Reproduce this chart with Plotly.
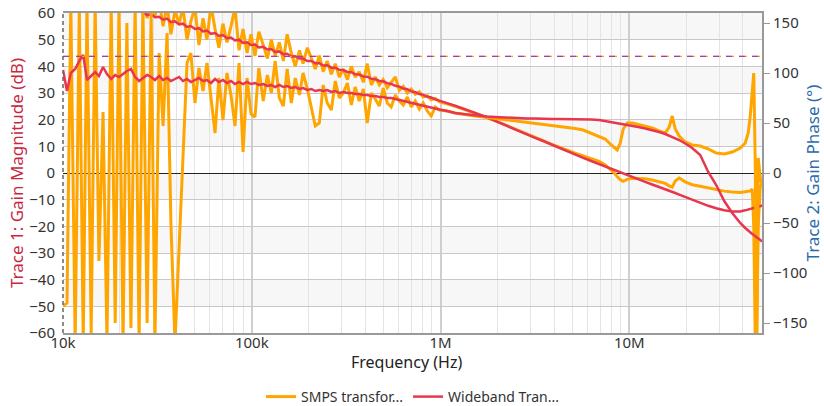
import plotly.graph_objects as go

# ---------------- data ----------------
# low-frequency grid (Hz)
freq_lo = [10.0e3, 10.5e3, 11.0e3, 11.6e3, 12.2e3, 12.8e3, 13.4e3, 14.1e3, 14.8e3, 15.5e3,
           16.3e3, 17.1e3, 18.0e3, 18.9e3, 19.8e3, 20.8e3, 21.8e3, 22.9e3, 24.1e3, 25.3e3,
           26.5e3, 27.9e3, 29.3e3, 30.7e3, 32.3e3, 33.9e3, 35.6e3, 37.3e3, 39.2e3, 41.2e3,
           43.2e3, 45.4e3, 47.6e3, 50.0e3, 52.5e3, 55.2e3, 57.9e3, 60.8e3, 63.9e3, 67.0e3,
           70.4e3, 73.9e3, 77.6e3, 81.5e3, 85.6e3, 89.9e3, 94.4e3, 99.1e3, 104e3, 109e3,
           115e3, 121e3, 127e3, 133e3, 140e3, 147e3, 154e3, 162e3, 170e3, 179e3,
           187e3, 197e3, 207e3, 217e3, 228e3, 239e3, 251e3, 264e3, 277e3, 291e3,
           305e3, 321e3, 337e3, 353e3, 371e3, 390e3, 409e3, 430e3, 451e3, 474e3,
           497e3, 522e3, 548e3, 576e3, 605e3, 635e3, 667e3, 700e3, 735e3, 772e3,
           810e3, 851e3, 893e3, 938e3, 985e3]
# high-frequency grid (Hz)
freq_hi = [1.084e6, 1.195e6, 1.318e6, 1.453e6, 1.602e6, 1.766e6, 1.947e6, 2.146e6, 2.366e6, 2.609e6,
           2.876e6, 3.171e6, 3.497e6, 3.855e6, 4.250e6, 4.687e6, 5.167e6, 5.697e6, 6.282e6, 6.926e6,
           7.452e6, 7.920e6, 8.318e6, 8.629e6, 8.952e6, 9.285e6, 9.748e6, 10.36e6, 11.15e6, 12.14e6,
           13.22e6, 14.40e6, 15.50e6, 16.27e6, 16.88e6, 17.51e6, 18.38e6, 19.78e6, 21.54e6, 23.75e6,
           26.19e6, 28.87e6, 31.84e6, 35.11e6, 38.70e6, 41.14e6, 42.67e6, 43.72e6, 44.80e6, 45.63e6,
           46.47e6, 47.33e6, 48.21e6, 49.40e6, 50.62e6]

# SMPS transformer - gain magnitude (dB)
smps_mag_lo = [70, 63, 71, 66, 68, 62, 70, 65, 62, 69, 66, 70, 64, 72, 66, 63, 69, 61, 67, 64,
               70, 58, 66, 59, 65, 55, 63, 52, 61, 56, 62, 50, 57, 62, 48, 58, 50, 63, 54, 47,
               56, 49, 55, 62, 46, 54, 45, 52, 44, 53, 48, 43, 50, 44, 49, 42, 52, 45, 40, 46,
               41, 47, 43, 39, 44, 38, 42, 37, 41, 36, 39, 35, 40, 36, 38, 34, 41, 33, 36, 33,
               35, 32, 34, 36, 31, 32.5, 30, 31.5, 29.5, 30.5, 28.5, 29, 27.5, 28, 26.8]
smps_mag_hi = [26, 25, 24, 23, 22, 20.8, 19.6, 18.4, 17.2, 16, 14.7, 13.4, 12.1, 10.8, 9.6, 8.5, 7.4, 6.4, 5.3, 4.4,
               3.0, 1.5, 0, -1.3, -2.5, -3.1, -2.4, -2.0, -2.0, -2.2, -2.6, -3.2, -3.9, -4.8, -5.3, -3.0, -1.9, -3.3, -4.4, -5.0,
               -5.6, -6.2, -6.8, -7.1, -7.3, -7.0, -6.9, -6.7, -6.0, -20, -62, -62, -20, -5, -4]

# SMPS transformer - gain phase (deg)
smps_ph_lo = [-133, -130, 170, -170, 165, -170, 170, -160, 170, -88, 61, -170, 170, -150, 170, -170, 150, -155, 170, -170,
              170, -150, 160, -170, 120, 47, 140, -50, -170, -80, 10, 110, 120, 70, 105, 82, 110, 75, 40, 95,
              53, 100, 78, 47, 110, 21, 95, 59, 56, 105, 72, 98, 80, 112, 75, 67, 104, 70, 95, 78,
              100, 84, 65, 47, 50, 88, 70, 63, 92, 75, 80, 90, 68, 86, 72, 84, 50, 80, 74, 67,
              85, 70, 66, 78, 72, 68, 76, 66, 72, 64, 70, 62, 57, 66, 63]
smps_ph_hi = [62, 60, 58.5, 57.5, 56.5, 55.5, 55, 54, 53, 52, 51, 50, 48.5, 48, 46.5, 45.5, 44.5, 43, 40, 37,
              34, 29, 25, 23, 30, 44, 50, 50, 48.5, 47, 45, 42, 40, 46, 57, 44, 37, 31, 28, 27,
              24, 20, 19, 21, 25, 30, 40, 57, 85, 100, 10, -165, 15, -5, -12]

# Wideband transformer - gain magnitude (dB)
wb_mag_lo = [68.6, 68.2, 67.7, 67.3, 66.9, 66.4, 66.0, 65.6, 65.1, 64.7, 64.3, 63.8, 63.4, 63.0, 62.6, 62.1, 61.7, 61.3, 60.8, 60.4,
             60.3, 59.2, 59.5, 58.4, 58.6, 57.5, 57.9, 56.6, 56.9, 55.7, 56.0, 54.8, 55.1, 54.0, 54.3, 53.1, 53.4, 52.2, 52.5, 51.4,
             51.7, 50.5, 50.8, 49.7, 50.0, 48.8, 49.0, 48.0, 48.2, 47.1, 47.3, 46.3, 46.5, 45.4, 45.6, 44.5, 44.7, 43.7, 43.8, 42.9,
             42.9, 42.0, 42.0, 41.2, 41.2, 40.3, 40.4, 39.5, 39.5, 38.7, 38.6, 37.9, 37.8, 37.0, 36.9, 36.2, 36.1, 35.3, 35.2, 34.5,
             34.4, 33.7, 33.4, 32.7, 32.4, 31.7, 31.4, 30.6, 30.3, 29.6, 29.3, 28.6, 28.3, 27.6, 27.2]
wb_mag_hi = [26.2, 25.2, 24.2, 23.2, 22.0, 20.8, 19.5, 18.3, 17.0, 15.8, 14.5, 13.2, 12.0, 10.7, 9.4, 8.1, 6.9, 5.7, 4.5, 3.3,
             2.4, 1.7, 1.1, 0.7, 0.2, -0.2, -0.8, -1.6, -2.4, -3.3, -4.3, -5.2, -6.0, -6.6, -7.1, -7.5, -8.1, -9.0, -10.1, -11.3,
             -12.3, -13.2, -14.0, -14.4, -14.4, -14.0, -13.7, -13.5, -13.3, -13.1, -13.0, -12.8, -12.7, -12.4, -12.2]

# Wideband transformer - gain phase (deg)
wb_ph_lo = [103, 82, 100, 104, 112, 118, 93, 97, 101, 97, 106, 99, 94, 98, 96, 99, 102, 104, 96, 92,
            95, 98, 96, 93, 97, 93, 95, 92, 94, 96, 92, 94, 91, 93, 95, 92, 93, 90, 94, 91,
            93, 90, 92, 89, 91, 89, 91, 89, 90, 88, 89, 87, 88, 86, 88, 86, 87, 85, 86, 84,
            85, 83, 84, 82, 83, 82, 83, 81, 82, 80, 81, 80, 80, 79, 79, 78, 78, 77, 77, 76,
            76, 75, 75, 74, 73, 72, 71, 70.5, 69.5, 68.5, 67.5, 66.5, 65.5, 64.5, 63.5]
wb_ph_hi = [62, 60, 59, 58, 57, 56.5, 56, 55.5, 55, 55, 54.5, 54.5, 54, 54, 54, 54, 54, 54, 53.5, 53,
            52, 51, 50.5, 50, 49.5, 49, 48, 47, 46, 44.5, 43, 41, 39, 37.5, 36, 35, 33, 29.5, 25, 18,
            1, -12, -28, -40, -50, -55, -58, -59.5, -61, -62, -63, -64.5, -65.5, -67, -68.5]

threshold_db = 43.7
y1_ticks = list(range(-60, 61, 10))
y2_ticks = [-150, -100, -50, 0, 50, 100, 150]
x_tickvals = [1e4, 1e5, 1e6, 1e7]
x_ticktext = ["10k", "100k", "1M", "10M"]

ORANGE = "#FFA500"
RED = "#E8364F"
FONT = "Noto Sans"

fig = go.Figure()
fig.add_trace(go.Scatter(x=freq_lo + freq_hi, y=smps_ph_lo + smps_ph_hi, yaxis="y2",
                         mode="lines", line=dict(color=ORANGE, width=3),
                         name="SMPS transfor...", legendgroup="smps", showlegend=False))
fig.add_trace(go.Scatter(x=freq_lo + freq_hi, y=smps_mag_lo + smps_mag_hi,
                         mode="lines", line=dict(color=ORANGE, width=3),
                         name="SMPS transfor...", legendgroup="smps", showlegend=True))
fig.add_trace(go.Scatter(x=freq_lo + freq_hi, y=wb_ph_lo + wb_ph_hi, yaxis="y2",
                         mode="lines", line=dict(color=RED, width=2.5),
                         name="Wideband Tran...", legendgroup="wb", showlegend=False))
fig.add_trace(go.Scatter(x=freq_lo + freq_hi, y=wb_mag_lo + wb_mag_hi,
                         mode="lines", line=dict(color=RED, width=2.5),
                         name="Wideband Tran...", legendgroup="wb", showlegend=True))

shapes = []
# alternating light bands
for lo in y1_ticks[:-1]:
    if (lo // 10) % 2 != 0:
        shapes.append(dict(type="rect", xref="paper", yref="y", x0=0, x1=1, y0=lo, y1=lo + 10,
                           fillcolor="#f7f7f7", line_width=0, layer="below"))
# threshold dashed line (orange + purple)
shapes.append(dict(type="line", xref="paper", yref="y", x0=0, x1=1, y0=threshold_db, y1=threshold_db,
                   line=dict(color=ORANGE, width=1.3, dash="8px,5px")))
shapes.append(dict(type="line", xref="paper", yref="y", x0=0, x1=1, y0=threshold_db, y1=threshold_db,
                   line=dict(color="#9B3FBF", width=1.3, dash="6px,7px")))
# left dashed edge
shapes.append(dict(type="line", xref="paper", yref="paper", x0=0, x1=0, y0=0, y1=1,
                   line=dict(color="#666666", width=1.5, dash="4px,3px")))

fig.update_layout(
    width=824, height=406,
    margin=dict(l=63, r=62, t=13, b=73, autoexpand=False),
    paper_bgcolor="white", plot_bgcolor="white",
    font=dict(family=FONT, size=14, color="#333333"),
    shapes=shapes,
    showlegend=True,
    legend=dict(orientation="h", x=0.5, xanchor="center", y=-0.2, yanchor="middle",
                font=dict(size=14, color="#333333"), itemwidth=30),
    annotations=[dict(text="Frequency (Hz)", xref="paper", yref="paper", x=0.491, y=-0.09,
                      xanchor="center", yanchor="middle", showarrow=False,
                      font=dict(size=16, color="#222222"))],
    xaxis=dict(type="log", range=[4, 7.703], tickvals=x_tickvals, ticktext=x_ticktext,
               showgrid=True, gridcolor="#cfcfcf", gridwidth=1.5, automargin=False,
               minor=dict(showgrid=True, gridcolor="#e4e4e4", dtick="D1", gridwidth=1),
               showline=True, linecolor="#999999", linewidth=2, mirror=True,
               ticks="", tickfont=dict(size=15), ticklabelstandoff=-5,
               zeroline=False),
    yaxis=dict(range=[-60, 60], tickvals=y1_ticks, showgrid=True, gridcolor="#c8c8c8", gridwidth=1,
               zeroline=True, zerolinecolor="#222222", zerolinewidth=1, automargin=False,
               ticks="", tickfont=dict(size=15), showline=False, ticklabelstandoff=7,
               title=dict(text="Trace 1: Gain Magnitude (dB)", font=dict(size=17, color="#C8283F"), standoff=1)),
    yaxis2=dict(range=[-160, 160], tickvals=y2_ticks, overlaying="y", side="right", automargin=False,
                showgrid=False, zeroline=False, showline=True, linecolor="#999999", linewidth=2,
                ticks="outside", ticklen=6, tickcolor="#999999", tickfont=dict(size=15),
                title=dict(text="Trace 2: Gain Phase (°)", font=dict(size=17, color="#2C6AAB"), standoff=9)),
)

fig.write_html("out.html")
